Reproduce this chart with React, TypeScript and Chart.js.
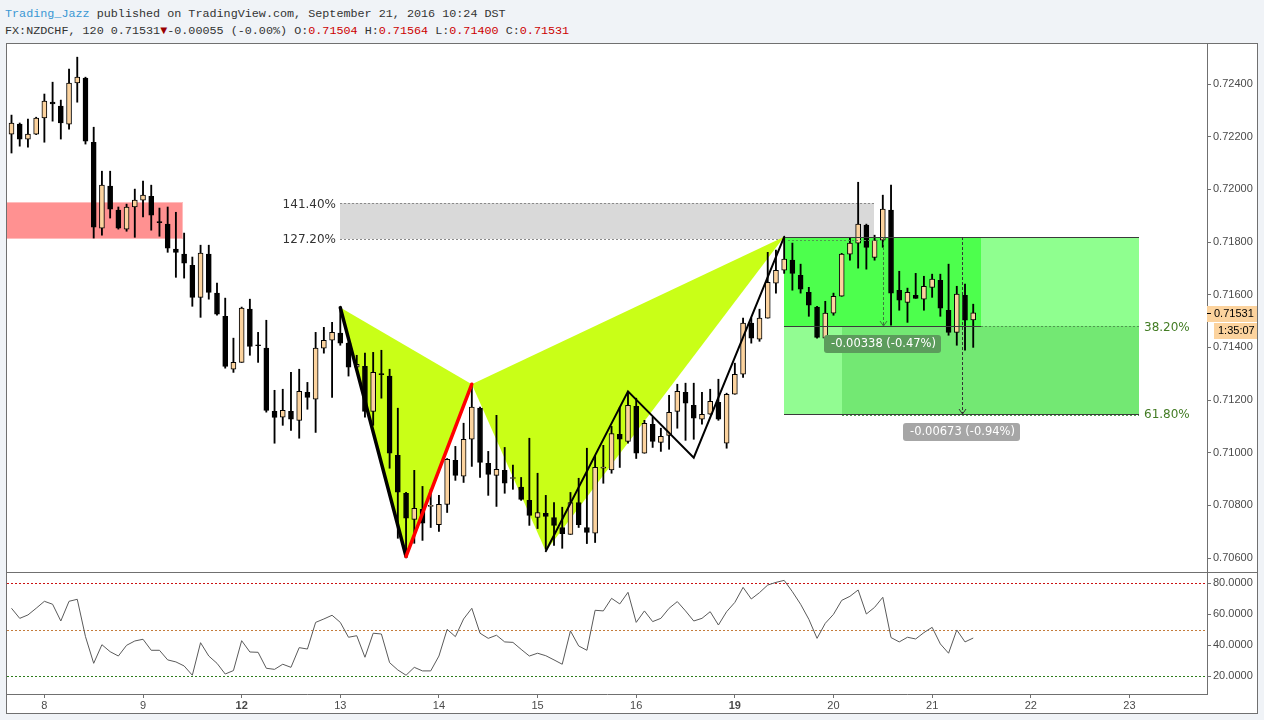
import React, { useEffect, useRef } from "react";
import { Chart, registerables } from "chart.js";

Chart.register(...registerables);

// ---------- data ----------
const opens = [0.72210,0.72248,0.72191,0.72210,0.72271,0.72331,0.72316,0.72248,0.72404,0.72423,
0.72179,0.71853,0.72012,0.71921,0.71849,0.71933,0.71959,0.71974,0.71878,0.71868,
0.71773,0.71754,0.71712,0.71590,0.71754,0.71606,0.71518,0.71317,0.71343,0.71545,
0.71410,0.71397,0.71157,0.71135,0.71157,0.71123,0.71229,0.71203,0.71397,0.71427,
0.71454,0.71416,0.71325,0.71328,0.71157,0.71300,0.71291,0.70990,0.70846,0.70747,
0.70785,0.70796,0.70727,0.70804,0.70971,0.70911,0.71051,0.71169,0.70960,0.70914,
0.70933,0.70902,0.70869,0.70819,0.70754,0.70770,0.70754,0.70716,0.70690,0.70811,
0.70716,0.70694,0.70941,0.70935,0.71070,0.71043,0.71176,0.70998,0.71108,0.71039,
0.71066,0.71157,0.71229,0.71180,0.71127,0.71146,0.71191,0.71036,0.71222,0.71298,
0.71492,0.71431,0.71511,0.71644,0.71693,0.71731,0.71674,0.71609,0.71553,0.71435,
0.71530,0.71594,0.71754,0.71796,0.71864,0.71742,0.71807,0.71921,0.71617,0.71571,
0.71598,0.71583,0.71628,0.71655,0.71541,0.71457,0.71598,0.71504];

const highs = [0.72282,0.72252,0.72267,0.72274,0.72362,0.72407,0.72339,0.72457,0.72502,0.72426,
0.72236,0.72069,0.72069,0.71933,0.71944,0.72001,0.72031,0.72016,0.71929,0.71933,
0.71913,0.71834,0.71743,0.71788,0.71788,0.71644,0.71587,0.71435,0.71553,0.71583,
0.71457,0.71503,0.71237,0.71241,0.71305,0.71317,0.71267,0.71457,0.71476,0.71495,
0.71551,0.71420,0.71370,0.71378,0.71381,0.71389,0.71317,0.71169,0.70850,0.70933,
0.70872,0.70861,0.70838,0.70978,0.71024,0.71112,0.71260,0.71173,0.71005,0.71142,
0.71020,0.70953,0.70906,0.71055,0.70922,0.70838,0.70811,0.70793,0.70849,0.70903,
0.71017,0.70990,0.71028,0.71100,0.71173,0.71226,0.71207,0.71123,0.71135,0.71093,
0.71218,0.71260,0.71264,0.71264,0.71229,0.71241,0.71279,0.71226,0.71340,0.71511,
0.71511,0.71545,0.71761,0.71769,0.71815,0.71796,0.71716,0.71628,0.71556,0.71575,
0.71606,0.71757,0.71815,0.72027,0.71868,0.71826,0.71978,0.72016,0.71689,0.71625,
0.71681,0.71670,0.71678,0.71678,0.71716,0.71632,0.71640,0.71564];

const lows = [0.72138,0.72164,0.72160,0.72208,0.72179,0.72259,0.72191,0.72229,0.72331,0.72172,
0.71815,0.71826,0.71891,0.71849,0.71841,0.71818,0.71895,0.71845,0.71822,0.71761,
0.71666,0.71663,0.71556,0.71514,0.71583,0.71522,0.71321,0.71305,0.71343,0.71370,
0.71343,0.71154,0.71036,0.71104,0.71085,0.71055,0.71165,0.71077,0.71378,0.71210,
0.71408,0.71291,0.71325,0.71135,0.71104,0.71207,0.70941,0.70675,0.70606,0.70656,
0.70667,0.70716,0.70701,0.70773,0.70895,0.70887,0.70948,0.70906,0.70838,0.70796,
0.70846,0.70861,0.70819,0.70724,0.70712,0.70633,0.70648,0.70637,0.70690,0.70716,
0.70655,0.70659,0.70884,0.70922,0.70944,0.71036,0.70978,0.70998,0.71020,0.71005,
0.71013,0.71093,0.71047,0.71051,0.71108,0.71146,0.71123,0.71017,0.71222,0.71286,
0.71416,0.71423,0.71511,0.71606,0.71681,0.71617,0.71606,0.71518,0.71435,0.71408,
0.71522,0.71594,0.71731,0.71701,0.71697,0.71731,0.71780,0.71484,0.71541,0.71495,
0.71586,0.71541,0.71590,0.71518,0.71446,0.71408,0.71389,0.71400];

const closes = [0.72252,0.72191,0.72210,0.72271,0.72335,0.72324,0.72252,0.72404,0.72426,0.72183,
0.71856,0.72016,0.71925,0.71853,0.71933,0.71959,0.71978,0.71902,0.71874,0.71777,
0.71761,0.71720,0.71590,0.71758,0.71609,0.71526,0.71328,0.71343,0.71549,0.71404,
0.71406,0.71161,0.71134,0.71161,0.71127,0.71233,0.71210,0.71397,0.71427,0.71457,
0.71416,0.71325,0.71336,0.71157,0.71305,0.71296,0.70998,0.70850,0.70751,0.70789,
0.70732,0.70800,0.70804,0.70975,0.70914,0.71051,0.71173,0.70963,0.70918,0.70937,
0.70884,0.70906,0.70823,0.70762,0.70773,0.70758,0.70724,0.70693,0.70811,0.70727,
0.70697,0.70944,0.70945,0.71073,0.71051,0.71180,0.70998,0.71112,0.71043,0.71062,
0.71153,0.71233,0.71188,0.71131,0.71146,0.71195,0.71127,0.71222,0.71298,0.71492,
0.71435,0.71511,0.71647,0.71693,0.71735,0.71681,0.71621,0.71560,0.71438,0.71530,
0.71594,0.71754,0.71796,0.71868,0.71780,0.71807,0.71925,0.71606,0.71579,0.71609,
0.71586,0.71632,0.71659,0.71549,0.71457,0.71602,0.71503,0.71531];

const rsiValues = [63.9,57.4,59.6,63.9,68.4,66.5,55.7,68.4,69.7,45.6,
28.4,40.4,35.9,33.1,40.0,42.8,43.9,36.8,36.8,30.6,
29.3,26.7,20.7,41.7,33.1,28.4,21.5,23.7,43.0,35.7,
35.5,25.2,24.5,27.8,25.8,38.5,37.6,54.8,57.0,59.4,
54.8,45.2,46.2,32.3,47.8,47.3,28.8,24.1,20.7,25.8,
23.5,23.5,33.1,50.3,45.6,57.0,63.9,47.8,44.5,46.5,
42.2,41.9,37.4,33.1,34.9,33.3,30.6,27.8,49.3,39.6,
36.8,62.6,62.2,70.3,66.7,74.2,54.8,62.2,55.3,57.4,
63.9,68.2,62.2,55.7,57.4,61.7,53.1,61.7,67.7,77.4,
69.9,74.0,78.9,80.6,81.9,74.6,66.5,56.8,44.5,54.2,
60.0,69.0,71.6,75.7,60.2,64.5,71.0,45.0,42.2,45.2,
44.1,48.2,51.6,40.9,34.9,49.9,42.2,44.7];

const dayTickPositions = [4, 16, 28, 40, 52, 64, 76, 88, 100, 112, 124, 136];
const dayTickLabels = ["8", "9", "12", "13", "14", "15", "16", "19", "20", "21", "22", "23"];
const boldDays = ["12", "19"];
const priceTicks = [0.706, 0.708, 0.71, 0.712, 0.714, 0.716, 0.718, 0.72, 0.722, 0.724];
const rsiTicks = [20, 40, 60, 80];
const rsiLevels = [80, 50, 20];

// harmonic pattern X, A, B, C, D
const patternIdx = [40, 48, 56, 65, 94];
const patternPrice = [0.71551, 0.70606, 0.71260, 0.70626, 0.71820];
// ABCD projection line
const abcdIdx = [65, 75, 83, 94];
const abcdPrice = [0.70626, 0.71233, 0.70981, 0.71820];

// zones
const supplyZoneIdx = [-2, 20.9];
const supplyZonePrice = [0.71951, 0.71811];
const extensionZoneIdx = [40, 104.9];
const extensionZonePrice = [0.71948, 0.71810];
const extensionLabels = ["141.40%", "127.20%"];
const targetIdx = [94, 137.2];
const targetLevels = [0.71820, 0.71482, 0.71147];
const targetLabels = ["38.20%", "61.80%"];
const range1Idx = [94, 106, 118];
const range1Price = [0.71820, 0.71482];
const range1Text = "-0.00338 (-0.47%)";
const range2Idx = [101, 115.6, 137.2];
const range2Price = [0.71820, 0.71147];
const range2Text = "-0.00673 (-0.94%)";

const lastPrice = 0.71531;
const lastPriceText = "0.71531";
const countdownText = "1:35:07";

const headerAuthor = "Trading_Jazz";
const headerRest = " published on TradingView.com, September 21, 2016 10:24 DST";
const symbolText = "FX:NZDCHF, 120 0.71531";
const changeText = "-0.00055 (-0.00%)";
const ohlcLabels = ["O:", "H:", "L:", "C:"];
const ohlcValues = ["0.71504", "0.71564", "0.71400", "0.71531"];

// ---------- styles ----------
const AXIS_FONT = '"Liberation Sans", Arial, sans-serif';
const DRAW_FONT = '"DejaVu Sans", Verdana, sans-serif';
const AXIS_COLOR = "#707070";
const TICK_COLOR = "#4a4a4a";
const UP_COLOR = "#fcd39e";

const X_MIN = -0.5474;
const X_MAX = 145.44;

function App() {
  const mainRef = useRef<HTMLCanvasElement>(null);
  const rsiRef = useRef<HTMLCanvasElement>(null);

  useEffect(() => {
    const idx = opens.map((_, i) => i);
    const wickData = idx.map((i) => ({ x: i, y: [lows[i], highs[i]] }));
    const bodyData = idx.map((i) => ({ x: i, y: [opens[i], closes[i]] }));
    const bodyColors = idx.map((i) => (closes[i] >= opens[i] ? UP_COLOR : "#000000"));

    const overlayPlugin = {
      id: "overlay",
      beforeDraw(chart: any) {
        const ctx = chart.ctx;
        ctx.save();
        ctx.fillStyle = "#ffffff";
        ctx.fillRect(6, 43, 1252, 671);
        ctx.restore();
      },
      beforeDatasetsDraw(chart: any) {
        const { ctx, chartArea: a, scales } = chart;
        const X = (v: number) => scales.x.getPixelForValue(v);
        const Y = (v: number) => Math.round(scales.y.getPixelForValue(v));
        ctx.save();
        ctx.beginPath();
        ctx.rect(a.left, a.top, a.right - a.left, a.bottom - a.top);
        ctx.clip();

        // supply zone
        {
          const x0 = X(supplyZoneIdx[0]), x1 = Math.round(X(supplyZoneIdx[1]));
          const y0 = Y(supplyZonePrice[0]), y1 = Y(supplyZonePrice[1]);
          ctx.fillStyle = "#ff9191";
          ctx.fillRect(x0, y0, x1 - x0, y1 - y0);
          ctx.strokeStyle = "#ffbdbd";
          ctx.lineWidth = 1;
          ctx.strokeRect(x0 + 0.5, y0 + 0.5, x1 - x0 - 1, y1 - y0 - 1);
        }
        // extension zone (gray)
        {
          const x0 = Math.round(X(extensionZoneIdx[0])), x1 = Math.round(X(extensionZoneIdx[1]));
          const y0 = Y(extensionZonePrice[0]), y1 = Y(extensionZonePrice[1]);
          ctx.fillStyle = "#d9d9d9";
          ctx.fillRect(x0, y0, x1 - x0, y1 - y0);
          ctx.strokeStyle = "#8a8a8a";
          ctx.setLineDash([2, 2]);
          ctx.beginPath();
          ctx.moveTo(x0, y0 + 0.5); ctx.lineTo(x1, y0 + 0.5);
          ctx.moveTo(x0, y1 + 0.5); ctx.lineTo(x1, y1 + 0.5);
          ctx.stroke();
          ctx.setLineDash([]);
        }
        // pattern triangles
        ctx.fillStyle = "#c9ff17";
        const tri = (ids: number[]) => {
          ctx.beginPath();
          ids.forEach((k, j) => {
            const px = X(patternIdx[k]), py = scales.y.getPixelForValue(patternPrice[k]);
            if (j === 0) ctx.moveTo(px, py); else ctx.lineTo(px, py);
          });
          ctx.closePath();
          ctx.fill();
        };
        tri([0, 1, 2]);
        tri([2, 3, 4]);

        // target zones
        {
          const tx0 = Math.round(X(targetIdx[0])), tx1 = Math.round(X(targetIdx[1]));
          const t0 = Y(targetLevels[0]), t1 = Y(targetLevels[1]), t2 = Y(targetLevels[2]);
          ctx.fillStyle = "#8fff8f";
          ctx.fillRect(tx0, t0, tx1 - tx0, t1 - t0);
          ctx.fillStyle = "#73e873";
          ctx.fillRect(tx0, t1, tx1 - tx0, t2 - t1);
          const r1e = Math.round(X(range1Idx[2]));
          ctx.fillStyle = "#4dff4d";
          ctx.fillRect(tx0, t0, r1e - tx0, t1 - t0);
          const r2s = Math.round(X(range2Idx[0]));
          ctx.fillStyle = "#92fc92";
          ctx.fillRect(tx0, t1, r2s - tx0, t2 - t1);
        }
        ctx.restore();
      },
      afterDatasetsDraw(chart: any) {
        const { ctx, chartArea: a, scales } = chart;
        const X = (v: number) => scales.x.getPixelForValue(v);
        const Yf = (v: number) => scales.y.getPixelForValue(v);
        const Y = (v: number) => Math.round(scales.y.getPixelForValue(v));
        ctx.save();
        ctx.beginPath();
        ctx.rect(a.left, a.top, a.right - a.left, a.bottom - a.top);
        ctx.clip();

        // target lines
        const tx0 = Math.round(X(targetIdx[0])), tx1 = Math.round(X(targetIdx[1]));
        const t0 = Y(targetLevels[0]), t1 = Y(targetLevels[1]), t2 = Y(targetLevels[2]);
        const r1e = Math.round(X(range1Idx[2]));
        const r2s = Math.round(X(range2Idx[0]));
        ctx.lineWidth = 1;
        ctx.strokeStyle = "#3a3a3a";
        ctx.beginPath();
        ctx.moveTo(tx0, t0 + 0.5); ctx.lineTo(tx1, t0 + 0.5);
        ctx.moveTo(tx0, t1 + 0.5); ctx.lineTo(r1e, t1 + 0.5);
        ctx.moveTo(tx0, t2 + 0.5); ctx.lineTo(tx1, t2 + 0.5);
        ctx.stroke();
        ctx.strokeStyle = "#4f9a4f";
        ctx.setLineDash([2, 2]);
        ctx.beginPath();
        ctx.moveTo(r1e, t1 + 0.5); ctx.lineTo(tx1, t1 + 0.5);
        ctx.moveTo(r2s, t2 + 1.5); ctx.lineTo(tx1, t2 + 1.5);
        ctx.moveTo(tx0 + 4, t0 + 3.5); ctx.lineTo(Math.round(X(range1Idx[1])), t0 + 3.5);
        ctx.stroke();

        // arrows
        const arrow = (xv: number, p0: number, p1: number, color: string) => {
          const x = Math.round(X(xv)) + 0.5;
          const y0 = Y(p0), y1 = Y(p1);
          ctx.strokeStyle = color;
          ctx.setLineDash([3, 2]);
          ctx.beginPath();
          ctx.moveTo(x, y0); ctx.lineTo(x, y1);
          ctx.stroke();
          ctx.setLineDash([]);
          ctx.beginPath();
          ctx.moveTo(x - 3.5, y1 - 5); ctx.lineTo(x, y1); ctx.lineTo(x + 3.5, y1 - 5);
          ctx.stroke();
        };
        arrow(range1Idx[1], range1Price[0], range1Price[1], "#3d7a3d");
        arrow(range2Idx[1], range2Price[0], range2Price[1], "#333333");
        ctx.setLineDash([]);

        // pattern legs
        const seg = (k0: number, k1: number, color: string, w: number) => {
          ctx.strokeStyle = color;
          ctx.lineWidth = w;
          ctx.lineCap = "round";
          ctx.beginPath();
          ctx.moveTo(X(patternIdx[k0]), Yf(patternPrice[k0]));
          ctx.lineTo(X(patternIdx[k1]), Yf(patternPrice[k1]));
          ctx.stroke();
        };
        seg(0, 1, "#000000", 3.5);
        seg(1, 2, "#ff0000", 3.5);

        ctx.strokeStyle = "#000000";
        ctx.lineWidth = 2;
        ctx.lineJoin = "miter";
        ctx.beginPath();
        abcdIdx.forEach((v, j) => {
          const px = X(v), py = Yf(abcdPrice[j]);
          if (j === 0) ctx.moveTo(px, py); else ctx.lineTo(px, py);
        });
        ctx.stroke();

        // extension labels
        ctx.fillStyle = "#333333";
        ctx.font = `12px ${DRAW_FONT}`;
        ctx.textBaseline = "middle";
        ctx.textAlign = "right";
        const ex = Math.round(X(extensionZoneIdx[0])) - 4;
        ctx.fillText(extensionLabels[0], ex, Y(extensionZonePrice[0]) + 2);
        ctx.fillText(extensionLabels[1], ex, Y(extensionZonePrice[1]) + 1);

        // target level labels
        ctx.textAlign = "left";
        ctx.fillStyle = "#437c24";
        ctx.fillText(targetLabels[0], tx1 + 5, t1 + 2);
        ctx.fillText(targetLabels[1], tx1 + 5, t2 + 1);

        // range labels
        const badge = (xv: number, yTop: number, text: string, bg: string) => {
          ctx.font = `11.5px ${DRAW_FONT}`;
          const w = Math.round(ctx.measureText(text).width) + 12;
          const cx = Math.round(X(xv));
          const bx = cx - Math.round(w / 2);
          const h = 18;
          const r = 3;
          ctx.fillStyle = bg;
          ctx.beginPath();
          ctx.moveTo(bx + r, yTop);
          ctx.lineTo(bx + w - r, yTop);
          ctx.quadraticCurveTo(bx + w, yTop, bx + w, yTop + r);
          ctx.lineTo(bx + w, yTop + h - r);
          ctx.quadraticCurveTo(bx + w, yTop + h, bx + w - r, yTop + h);
          ctx.lineTo(bx + r, yTop + h);
          ctx.quadraticCurveTo(bx, yTop + h, bx, yTop + h - r);
          ctx.lineTo(bx, yTop + r);
          ctx.quadraticCurveTo(bx, yTop, bx + r, yTop);
          ctx.fill();
          ctx.fillStyle = "#ffffff";
          ctx.textAlign = "center";
          ctx.textBaseline = "middle";
          ctx.fillText(text, cx + 0.5, yTop + h / 2 + 0.5);
        };
        badge(range1Idx[1], t1 + 9, range1Text, "#5c9c5c");
        badge(range2Idx[1], t2 + 9, range2Text, "#a6a6a6");

        ctx.restore();
      },
      afterDraw(chart: any) {
        const { ctx, chartArea: a, scales } = chart;
        const yP = Math.round(scales.y.getPixelForValue(lastPrice));
        ctx.save();
        ctx.fillStyle = UP_COLOR;
        ctx.fillRect(a.right, yP - 7, 50, 16);
        ctx.fillRect(a.right + 7, yP + 10, 43, 16);
        ctx.fillStyle = "#000000";
        ctx.fillRect(a.right, yP, 4, 1);
        ctx.font = `11px ${AXIS_FONT}`;
        ctx.textBaseline = "middle";
        ctx.textAlign = "left";
        ctx.fillText(lastPriceText, a.right + 7, yP + 1);
        ctx.fillText(countdownText, a.right + 11, yP + 18);
        // frame
        ctx.strokeStyle = AXIS_COLOR;
        ctx.lineWidth = 1;
        ctx.strokeRect(6.5, 43.5, 1251, 670);
        ctx.restore();
      },
    };

    const main = new Chart(mainRef.current as HTMLCanvasElement, {
      type: "bar",
      data: {
        datasets: [
          {
            data: wickData as any,
            backgroundColor: "#000000",
            borderWidth: 0,
            barThickness: 1.2,
            grouped: false,
            order: 2,
          } as any,
          {
            data: bodyData as any,
            backgroundColor: bodyColors,
            borderColor: "#000000",
            borderWidth: 1,
            borderSkipped: false,
            barThickness: 5,
            grouped: false,
            order: 1,
          } as any,
        ],
      },
      options: {
        responsive: false,
        animation: false,
        devicePixelRatio: 1,
        events: [],
        layout: { padding: { left: 7, top: 44, right: 6, bottom: 148 } },
        plugins: { legend: { display: false }, tooltip: { enabled: false } },
        scales: {
          x: {
            type: "linear",
            min: X_MIN,
            max: X_MAX,
            offset: false,
            display: false,
            grid: { offset: false },
          },
          y: {
            type: "linear",
            position: "right",
            min: 0.70547,
            max: 0.72552,
            beginAtZero: false,
            afterFit: (s: any) => { s.width = 51; },
            afterBuildTicks: (s: any) => { s.ticks = priceTicks.map((v) => ({ value: v })); },
            ticks: {
              callback: (v: any) => Number(v).toFixed(5),
              color: TICK_COLOR,
              font: { family: AXIS_FONT, size: 11 },
              padding: 2,
            },
            grid: { drawOnChartArea: false, tickLength: 4, color: AXIS_COLOR },
            border: { display: true, color: AXIS_COLOR },
          },
        },
      } as any,
      plugins: [overlayPlugin],
    });

    const rsiPlugin = {
      id: "rsiLevels",
      beforeDatasetsDraw(chart: any) {
        const { ctx, chartArea: a, scales } = chart;
        const colors = ["#cc1111", "#c47c3c", "#2e7d1c"];
        ctx.save();
        ctx.lineWidth = 1;
        ctx.setLineDash([2, 2]);
        rsiLevels.forEach((lv, k) => {
          const y = Math.round(scales.y.getPixelForValue(lv)) + 0.5;
          ctx.strokeStyle = colors[k];
          ctx.beginPath();
          ctx.moveTo(a.left, y);
          ctx.lineTo(a.right, y);
          ctx.stroke();
        });
        ctx.restore();
      },
      afterDraw(chart: any) {
        const { ctx, chartArea: a } = chart;
        ctx.save();
        ctx.strokeStyle = AXIS_COLOR;
        ctx.lineWidth = 1;
        ctx.beginPath();
        ctx.moveTo(6, a.top + 0.5);
        ctx.lineTo(1258, a.top + 0.5);
        ctx.stroke();
        ctx.restore();
      },
    };

    const rsi = new Chart(rsiRef.current as HTMLCanvasElement, {
      type: "line",
      data: {
        datasets: [
          {
            data: rsiValues.map((v, i) => ({ x: i, y: v })) as any,
            borderColor: "#5a5a5a",
            borderWidth: 1,
            pointRadius: 0,
            tension: 0,
            fill: false,
          },
        ],
      },
      options: {
        responsive: false,
        animation: false,
        devicePixelRatio: 1,
        events: [],
        layout: { padding: { left: 7, top: 572, right: 6, bottom: 7 } },
        plugins: { legend: { display: false }, tooltip: { enabled: false } },
        scales: {
          x: {
            type: "linear",
            min: X_MIN,
            max: X_MAX,
            offset: false,
            afterFit: (s: any) => { s.height = 19; s.paddingLeft = 0; s.paddingRight = 0; },
            afterBuildTicks: (s: any) => { s.ticks = dayTickPositions.map((v) => ({ value: v })); },
            ticks: {
              autoSkip: false,
              maxRotation: 0,
              padding: 1,
              color: TICK_COLOR,
              callback: (_v: any, i: number) => dayTickLabels[i],
              font: (c: any) => ({
                family: AXIS_FONT,
                size: 11,
                weight: boldDays.includes(dayTickLabels[c.index]) ? "bold" : "normal",
              }),
            },
            grid: { drawOnChartArea: false, tickLength: 4, color: AXIS_COLOR },
            border: { display: true, color: AXIS_COLOR },
          },
          y: {
            type: "linear",
            position: "right",
            min: 8.6,
            max: 87.3,
            afterFit: (s: any) => { s.width = 51; },
            afterBuildTicks: (s: any) => { s.ticks = rsiTicks.map((v) => ({ value: v })); },
            ticks: {
              callback: (v: any) => Number(v).toFixed(4),
              color: TICK_COLOR,
              font: { family: AXIS_FONT, size: 11 },
              padding: 2,
            },
            grid: { drawOnChartArea: false, tickLength: 4, color: AXIS_COLOR },
            border: { display: true, color: AXIS_COLOR },
          },
        },
      } as any,
      plugins: [rsiPlugin],
    });

    return () => {
      main.destroy();
      rsi.destroy();
    };
  }, []);

  const mono = '"Liberation Mono", "DejaVu Sans Mono", monospace';
  return (
    <div
      style={{
        position: "absolute",
        left: 0,
        top: 0,
        width: 1264,
        height: 720,
        background: "#f0f3f7",
        overflow: "hidden",
      }}
    >
      <div
        style={{
          position: "absolute",
          left: 5,
          top: 6,
          font: `11.75px ${mono}`,
          lineHeight: "16px",
          color: "#333333",
          whiteSpace: "pre",
        }}
      >
        <span style={{ color: "#3a97d4" }}>{headerAuthor}</span>
        {headerRest}
      </div>
      <div
        style={{
          position: "absolute",
          left: 5,
          top: 23,
          font: `11.75px ${mono}`,
          lineHeight: "16px",
          color: "#333333",
          whiteSpace: "pre",
        }}
      >
        {symbolText}
        <span style={{ color: "#990000" }}>▼</span>
        {changeText}
        {ohlcLabels.map((l, i) => (
          <span key={l}>
            {" " + l}
            <span style={{ color: "#cc0000" }}>{ohlcValues[i]}</span>
          </span>
        ))}
      </div>
      <canvas
        ref={mainRef}
        width={1264}
        height={720}
        style={{ position: "absolute", left: 0, top: 0 }}
      />
      <canvas
        ref={rsiRef}
        width={1264}
        height={720}
        style={{ position: "absolute", left: 0, top: 0 }}
      />
    </div>
  );
}

export default App;
